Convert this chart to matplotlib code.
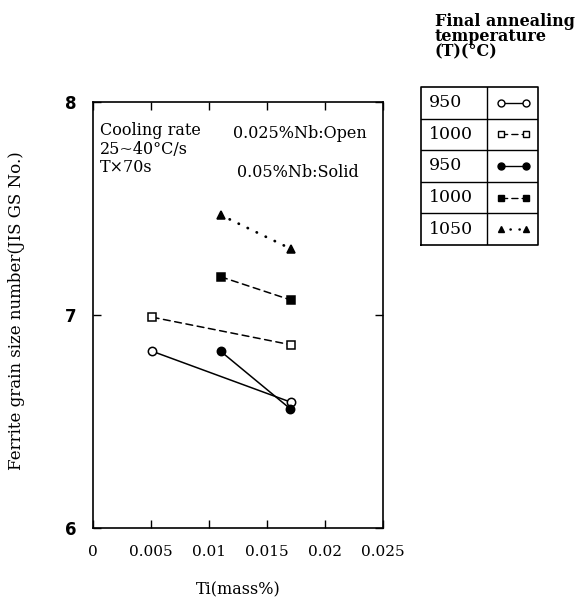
import matplotlib
matplotlib.use("Agg")
import matplotlib.pyplot as plt

# Data
series_names = ["950 Open", "1000 Open", "950 Solid", "1000 Solid", "1050 Solid"]
legend_temps = ["950", "1000", "950", "1000", "1050"]
ti_values = [
    [0.0051, 0.0171],
    [0.0051, 0.0171],
    [0.0110, 0.0170],
    [0.0110, 0.0171],
    [0.0110, 0.0171],
]
grain_size = [
    [6.83, 6.59],
    [6.99, 6.86],
    [6.83, 6.56],
    [7.18, 7.07],
    [7.47, 7.31],
]
x_ticks = [0, 0.005, 0.01, 0.015, 0.02, 0.025]
x_tick_labels = ["0", "0.005", "0.01", "0.015", "0.02", "0.025"]
y_ticks = [6, 7, 8]

# Styles
markers = ["o", "s", "o", "s", "^"]
fills = ["white", "white", "black", "black", "black"]
styles = ["-", (0, (4.5, 3)), "-", (0, (4.5, 3)), (0, (0.1, 3.5))]
widths = [1.1, 1.1, 1.1, 1.1, 2.0]

serif = "DejaVu Serif"

fig = plt.figure(figsize=(5.78, 6.08), dpi=100)
ax = fig.add_axes([0.161, 0.1316, 0.5016, 0.7004])

for xs, ys, m, fc, ls, lw in zip(ti_values, grain_size, markers, fills, styles, widths):
    ax.plot(xs, ys, color="black", linestyle=ls, linewidth=lw,
            dash_capstyle="round",
            marker=m, markersize=6, markerfacecolor=fc, markeredgecolor="black",
            markeredgewidth=1.1)

ax.set_xlim(0, 0.025)
ax.set_ylim(6, 8)
ax.set_xticks(x_ticks)
ax.set_xticklabels(x_tick_labels, fontfamily=serif, fontsize=11)
ax.set_yticks(y_ticks)
ax.set_yticklabels([str(v) for v in y_ticks], fontfamily="DejaVu Sans",
                   fontweight="bold", fontsize=12)
ax.tick_params(direction="in", length=6, width=1, top=True, right=True,
               pad=12)
for s in ax.spines.values():
    s.set_linewidth(1.2)

ax.set_xlabel("Ti(mass%)", fontfamily=serif, fontsize=11.5, labelpad=16)
ax.set_ylabel("Ferrite grain size number(JIS GS No.)", fontfamily=serif,
              fontsize=12)
ax.yaxis.set_label_coords(-0.235, 0.51)

ax.text(0.0006, 7.905, "Cooling rate\n25~40°C/s\nT×70s", fontfamily=serif,
        fontsize=11.5, va="top", ha="left", linespacing=1.1)
ax.text(0.0121, 7.855, "0.025%Nb:Open", fontfamily=serif, fontsize=11.5,
        va="center", ha="left")
ax.text(0.0124, 7.67, "0.05%Nb:Solid", fontfamily=serif, fontsize=11.5,
        va="center", ha="left")

# Legend table
fig.text(0.752, 0.978, "Final annealing\ntemperature\n(T)(°C)", fontfamily=serif,
         fontsize=11.5, fontweight="bold", va="top", ha="left", linespacing=0.85)

lax = fig.add_axes([0.7284, 0.597, 0.2024, 0.26])
lax.set_xlim(0, 1)
lax.set_ylim(0, len(legend_temps))
lax.axis("off")
n = len(legend_temps)
split = 0.56
lax.plot([0, 1, 1, 0, 0], [0, 0, n, n, 0], color="black", linewidth=1.2,
         clip_on=False)
lax.plot([split, split], [0, n], color="black", linewidth=1.0)
for i in range(1, n):
    lax.plot([0, 1], [i, i], color="black", linewidth=1.0)
for i, (t, m, fc, ls, lw) in enumerate(zip(legend_temps, markers, fills, styles, widths)):
    yc = n - i - 0.5
    lax.text(0.07, yc, t, fontfamily=serif, fontsize=12.5, va="center", ha="left")
    lax.plot([split + 0.12, 1 - 0.1], [yc, yc], color="black", linestyle=ls,
             linewidth=lw * 0.9, dash_capstyle="round", marker=m, markersize=5,
             markerfacecolor=fc, markeredgecolor="black", markeredgewidth=1.0)

fig.savefig("out.png", dpi=100)
